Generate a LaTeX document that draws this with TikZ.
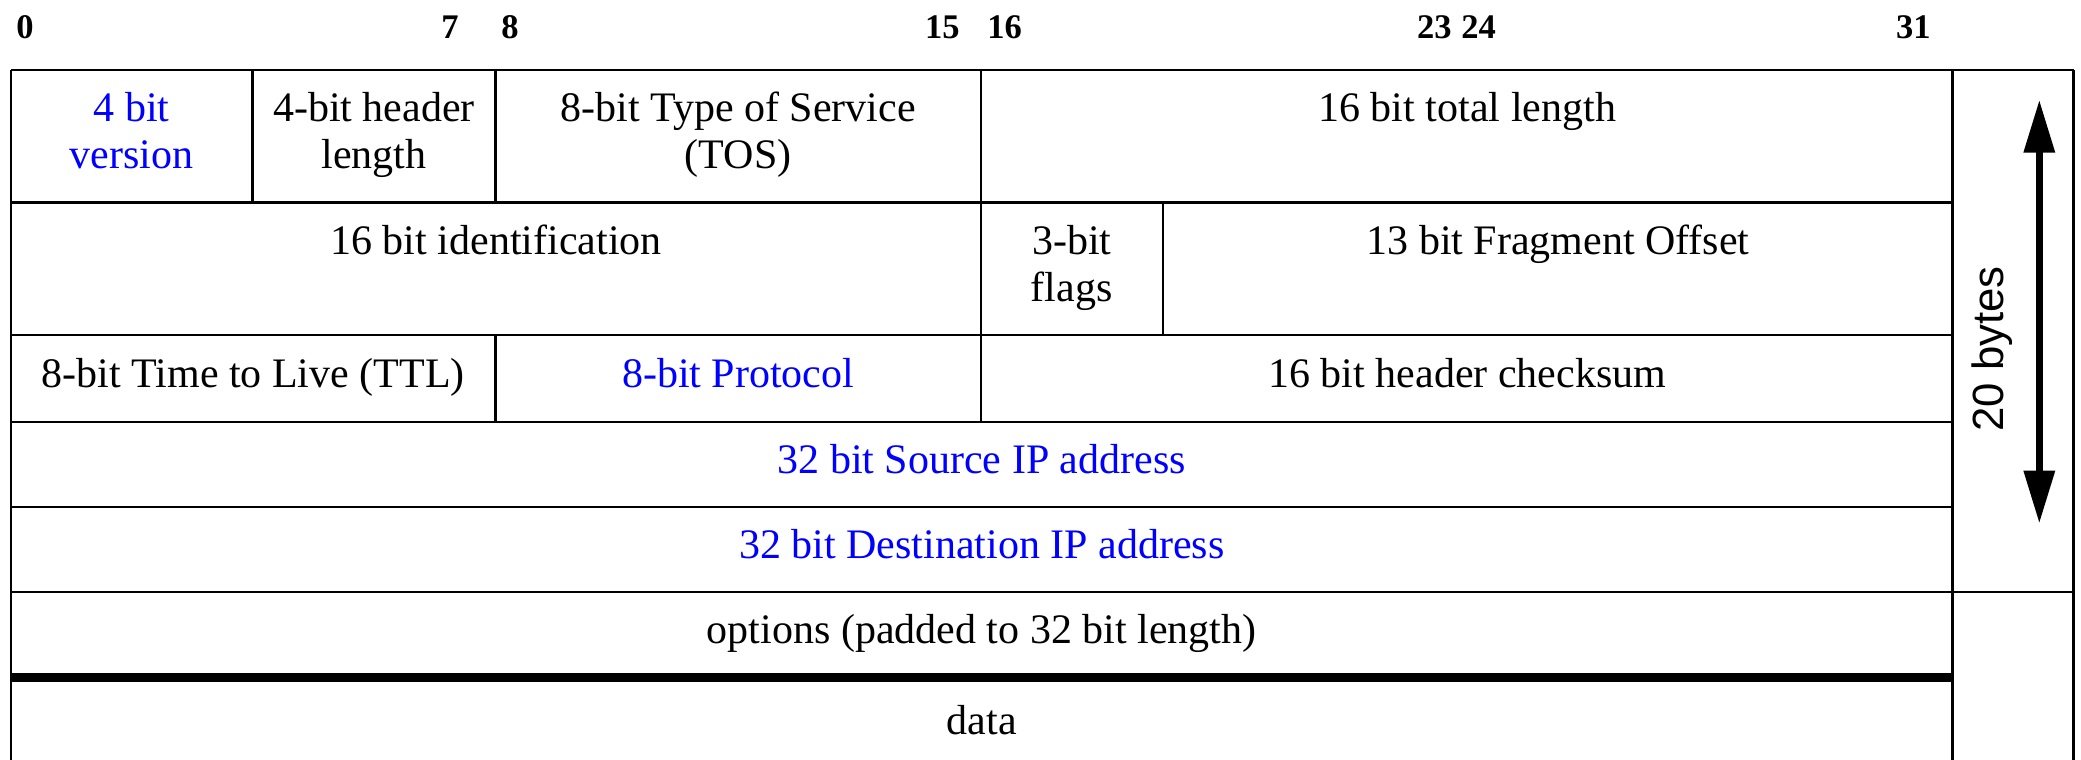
\documentclass[tikz,border=0pt]{standalone}
\usepackage{fontspec}
\setmainfont{Liberation Serif}
\newfontfamily\bytesfont{Liberation Sans}
\usepackage{tikz}
\usetikzlibrary{arrows.meta}

\begin{document}
\begin{tikzpicture}[x=0.75pt,y=0.75pt,yscale=-1,xscale=1,
    field/.style={anchor=north,inner sep=0pt,align=center,font=\fontsize{31.5}{35}\selectfont},
    bitno/.style={inner sep=0pt,font=\fontsize{25.9}{30}\selectfont\bfseries},
    keyfield/.style={color={rgb, 255:red, 0; green, 0; blue, 255 }}]
\useasboundingbox (0,0) rectangle (2081,760);

%Straight Lines (rows)
\draw [line width=1.6]    (11,70) -- (2073.5,70) ;
\draw [line width=1.6]    (11,202.5) -- (1952.5,202.5) ;
\draw [line width=1.6]    (11,335.3) -- (1952.5,335.3) ;
\draw [line width=1.6]    (11,421.7) -- (1952.5,421.7) ;
\draw [line width=1.6]    (11,506.7) -- (1952.5,506.7) ;
\draw [line width=1.6]    (11,591.7) -- (2073.5,591.7) ;
\draw [line width=6.5]    (11,677.7) -- (1952.5,677.7) ;
%Straight Lines (columns)
\draw [line width=1.6]    (11,70) -- (11,760) ;
\draw [line width=1.6]    (1952.5,70) -- (1952.5,760) ;
\draw [line width=1.6]    (2073.5,70) -- (2073.5,760) ;
\draw [line width=1.6]    (252.5,70) -- (252.5,202.5) ;
\draw [line width=1.6]    (495.5,70) -- (495.5,202.5) ;
\draw [line width=1.6]    (495.5,335.3) -- (495.5,421.7) ;
\draw [line width=1.6]    (981,70) -- (981,421.7) ;
\draw [line width=1.6]    (1162.7,202.5) -- (1162.7,335.3) ;

% Bit numbers
\node [bitno,anchor=base west] (b0) at (16,38.3) {0};
\node [bitno,anchor=base east] (b7) at (459,38.3) {7};
\node [bitno,anchor=base west] (b8) at (501,38.3) {8};
\node [bitno,anchor=base east] (b15) at (960,38.3) {15};
\node [bitno,anchor=base west] (b16) at (987,38.3) {16};
\node [bitno,anchor=base east] (b23) at (1452,38.3) {23};
\node [bitno,anchor=base west] (b24) at (1461,38.3) {24};
\node [bitno,anchor=base east] (b31) at (1931,38.3) {31};

% Text Node
\node [field,keyfield] (ver) at (131.7,89) {\strut 4 bit\\version};
\node [field] (hlen) at (374,89) {\strut 4-bit header\\length};
\node [field] (tos) at (738.2,89) {\strut 8-bit Type of Service\\(TOS)};
\node [field] (totlen) at (1467.2,89) {\strut 16 bit total length};
% Text Node
\node [field] (ident) at (496,221.8) {\strut 16 bit identification};
\node [field] (flags) at (1071.8,221.8) {\strut 3-bit\\flags};
\node [field] (fragoff) at (1558,221.8) {\strut 13 bit Fragment Offset};
% Text Node
\node [field] (ttl) at (253.2,354.6) {\strut 8-bit Time to Live (TTL)};
\node [field,keyfield] (proto) at (738.2,354.6) {\strut 8-bit Protocol};
\node [field] (hcsum) at (1467.2,354.6) {\strut 16 bit header checksum};
% Text Node
\node [field,keyfield] (srcip) at (981.7,441) {\strut 32 bit Source IP address};
\node [field,keyfield] (dstip) at (981.7,526) {\strut 32 bit Destination IP address};
\node [field] (opts) at (981.7,610.8) {\strut options (padded to 32 bit length)};
\node [field] (data) at (981.7,701.3) {\strut data};

% Header size arrow
\coordinate (hdrtop) at (2039.3,100);
\coordinate (hdrbot) at (2039.3,523.3);
\draw [line width=5,{Triangle[length=39.5pt,width=22.5pt]}-{Triangle[length=39.5pt,width=22.5pt]}]    (hdrtop) -- (hdrbot) ;
\node [inner sep=0pt,anchor=base,rotate=90,font=\bytesfont\fontsize{32.8}{36}\selectfont] (nbytes) at (2003.3,349) {20 bytes};
\end{tikzpicture}
\end{document}
